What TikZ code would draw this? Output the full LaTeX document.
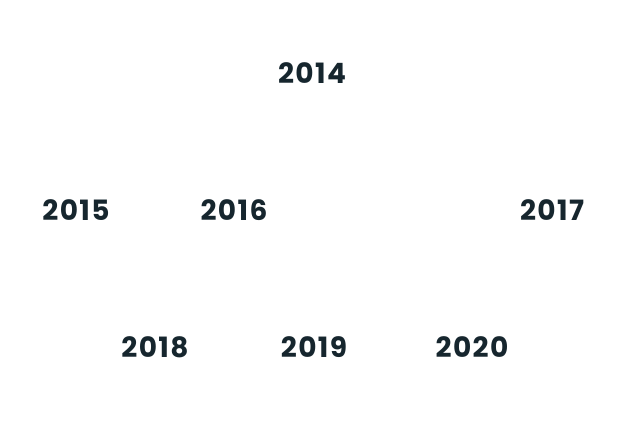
\documentclass[tikz,border=0pt]{standalone}
\usepackage{fontspec}
\setmainfont{Poppins}
\usepackage{tikz}
\usetikzlibrary{positioning}
\definecolor{yearink}{HTML}{16262E}

\begin{document}
\begin{tikzpicture}[x=1pt, y=-1pt,
    year/.style={text=yearink, font=\fontsize{28}{32}\selectfont\bfseries\addfontfeature{LetterSpace=5}, inner sep=0pt}]
    \useasboundingbox (0,0) rectangle (628,447);
    \node[year] (Y2014) at (312, 73) {2014};
    \node[year] (Y2015) at ( 76,210) {2015};
    \node[year] (Y2016) at (234,210) {2016};
    \node[year] (Y2017) at (552,210) {2017};
    \node[year] (Y2018) at (155,347) {2018};
    \node[year] (Y2019) at (314,347) {2019};
    \node[year] (Y2020) at (472,347) {2020};
\end{tikzpicture}
\end{document}
